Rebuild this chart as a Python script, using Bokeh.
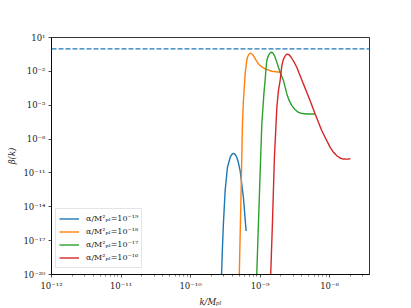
from bokeh.plotting import figure
from bokeh.models import FixedTicker, CustomJSTickFormatter, Legend, LegendItem, Span
from bokeh.embed import file_html
from bokeh.resources import INLINE

# ---- data (log10 values) ----
blue_logk = [-9.556, -9.540, -9.527, -9.502, -9.469, -9.430, -9.405, -9.383, -9.358, -9.334, -9.310, -9.286, -9.239, -9.200]
blue_logb = [-20.5, -17.5, -15.55, -12.59, -10.52, -9.63, -9.36, -9.27, -9.36, -9.63, -10.10, -10.81, -13.18, -16.14]

orange_logk = [-9.300, -9.272, -9.253, -9.239, -9.214, -9.195, -9.181, -9.160, -9.142, -9.118, -9.095, -9.060, -9.023, -8.975, -8.927, -8.830, -8.711]
orange_logb = [-20.5, -12.59, -6.66, -4.60, -2.22, -1.20, -0.75, -0.48, -0.39, -0.45, -0.60, -0.98, -1.34, -1.60, -1.78, -1.99, -2.08]

green_logk = [-9.050, -9.023, -8.999, -8.974, -8.941, -8.927, -8.915, -8.902, -8.885, -8.865, -8.848, -8.830, -8.812,
              -8.793, -8.765, -8.735, -8.700, -8.663, -8.614, -8.580, -8.542, -8.495, -8.447, -8.390, -8.327, -8.207]
green_logb = [-20.5, -15.55, -11.10, -6.66, -3.71, -2.82, -1.85, -1.04, -0.68, -0.45, -0.33, -0.31, -0.40,
              -0.60, -1.05, -1.64, -2.25, -2.82, -4.00, -4.60, -5.04, -5.40, -5.63, -5.74, -5.78, -5.78]

red_logk = [-8.849, -8.822, -8.793, -8.758, -8.735, -8.711, -8.686, -8.668, -8.649, -8.630, -8.610, -8.582, -8.553,
            -8.512, -8.471, -8.376, -8.279, -8.207, -8.111, -7.991, -7.940, -7.895, -7.850, -7.800, -7.740, -7.700]
red_logb = [-20.5, -15.55, -9.63, -5.19, -3.71, -2.82, -1.49, -1.02, -0.75, -0.55, -0.47, -0.53, -0.75,
            -1.15, -1.64, -3.11, -4.60, -5.78, -7.26, -8.74, -9.20, -9.48, -9.68, -9.77, -9.78, -9.74]

series_labels = ["α/M²ₚₗ=10⁻¹⁹", "α/M²ₚₗ=10⁻¹⁸", "α/M²ₚₗ=10⁻¹⁷", "α/M²ₚₗ=10⁻¹⁶"]
series_colors = ["#1f77b4", "#ff7f0e", "#2ca02c", "#d62728"]
hline_value = 1.0

x_major = [1e-12, 1e-11, 1e-10, 1e-9, 1e-8]
y_major = [1e1, 1e-2, 1e-5, 1e-8, 1e-11, 1e-14, 1e-17, 1e-20]
x_minor = [m * t for t in [1e-12, 1e-11, 1e-10, 1e-9, 1e-8] for m in range(2, 10)]

FONT = "DejaVu Serif"

p = figure(width=403, height=300, x_axis_type="log", y_axis_type="log",
           x_range=(1e-12, 10 ** -7.425), y_range=(1e-20, 1e1),
           output_backend="svg", toolbar_location=None,
           min_border_left=51, min_border_right=34, min_border_top=37, min_border_bottom=26)
p.frame_width = 318
p.frame_height = 237

p.xgrid.visible = False
p.ygrid.visible = False
p.outline_line_color = "black"
p.outline_line_width = 0.8
p.background_fill_color = "white"
p.border_fill_color = "white"

fmt = CustomJSTickFormatter(code="""
const sup = {'-':'\u207b','0':'\u2070','1':'\u00b9','2':'\u00b2','3':'\u00b3','4':'\u2074',
             '5':'\u2075','6':'\u2076','7':'\u2077','8':'\u2078','9':'\u2079'};
const e = Math.round(Math.log10(tick));
return '10' + String(e).split('').map(c => sup[c]).join('');
""")

p.xaxis.ticker = FixedTicker(ticks=x_major, minor_ticks=x_minor)
p.yaxis.ticker = FixedTicker(ticks=y_major, minor_ticks=[])
for ax in (p.xaxis, p.yaxis):
    ax.formatter = fmt
    ax.major_label_text_font = FONT
    ax.major_label_text_font_size = "8.5px"
    ax.major_label_text_color = "#222222"
    ax.axis_line_color = "black"
    ax.axis_line_width = 0.8
    ax.major_tick_line_color = "black"
    ax.minor_tick_line_color = "black"
    ax.major_tick_line_width = 0.7
    ax.minor_tick_line_width = 0.5
    ax.major_tick_in = 0
    ax.major_tick_out = 3
    ax.minor_tick_in = 0
    ax.minor_tick_out = 2
    ax.major_label_standoff = 3
    ax.axis_label_text_font = FONT
    ax.axis_label_text_font_size = "8.5px"
    ax.axis_label_text_font_style = "italic"
    ax.axis_label_text_color = "#222222"
    ax.axis_label_standoff = 3

p.xaxis.axis_label = "k/Mₚₗ"
p.yaxis.axis_label = "β(k)"

p.add_layout(Span(location=hline_value, dimension="width", line_color="#1f77b4",
                  line_dash="5 2", line_width=1.3))

xs_all = [blue_logk, orange_logk, green_logk, red_logk]
ys_all = [blue_logb, orange_logb, green_logb, red_logb]
items = []
for lk, lb, c, lab in zip(xs_all, ys_all, series_colors, series_labels):
    r = p.line([10 ** v for v in lk], [10 ** v for v in lb], line_color=c, line_width=1.4)
    items.append(LegendItem(label=lab, renderers=[r]))

legend = Legend(items=items, location=(4, 6))
legend.label_text_font = FONT
legend.label_text_font_size = "8px"
legend.label_text_color = "#222222"
legend.glyph_width = 20
legend.glyph_height = 13
legend.label_height = 13
legend.label_standoff = 7
legend.spacing = 0
legend.padding = 3
legend.margin = 0
legend.border_line_color = "#cccccc"
legend.border_line_width = 0.8
legend.background_fill_alpha = 0.8
p.add_layout(legend, "center")

open("out.html", "w").write(file_html(p, INLINE))
